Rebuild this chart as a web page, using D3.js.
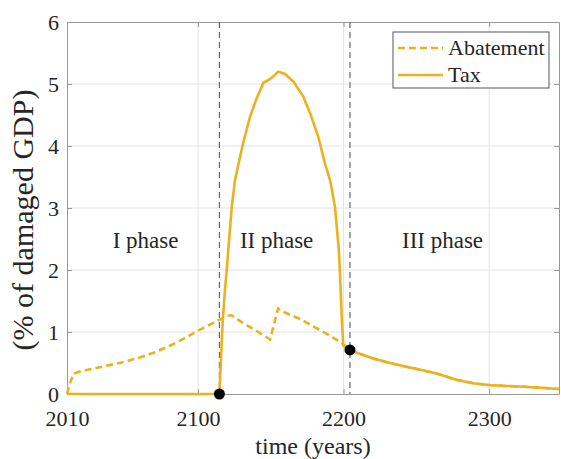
<!DOCTYPE html>
<html>
<head>
<meta charset="utf-8">
<script src="https://cdn.jsdelivr.net/npm/d3@7"></script>
<style>
  body { margin: 0; background: #fff; }
  svg text { font-family: "Liberation Serif", "Times New Roman", "DejaVu Serif", serif; fill: #262626; }
</style>
</head>
<body>
<svg id="chart" width="561" height="459"></svg>
<script>
// data
var abateYears = [2010, 2012, 2014.5, 2020, 2030, 2040, 2050, 2060, 2070, 2080, 2090, 2100, 2110, 2115, 2120, 2123,
                  2130, 2140, 2149.5, 2155, 2160, 2170, 2180, 2190, 2200, 2204.4,
                  2212, 2220, 2232, 2243, 2255, 2264, 2272, 2278, 2290, 2300, 2312, 2324, 2336, 2348];
var abateVals  = [0, 0.17, 0.33, 0.37, 0.42, 0.47, 0.52, 0.59, 0.67, 0.77, 0.89, 1.02, 1.14, 1.2, 1.26, 1.27,
                  1.16, 1.02, 0.88, 1.38, 1.31, 1.21, 1.08, 0.95, 0.8, 0.71,
                  0.64, 0.575, 0.5, 0.44, 0.38, 0.33, 0.27, 0.226, 0.17, 0.145, 0.13, 0.118, 0.1, 0.08];

var taxYears = [2010, 2114.7, 2117, 2118.5, 2119.7, 2123.2, 2125.4, 2130.7, 2135.7, 2140, 2144.9, 2148.3, 2152, 2155.2,
                2159.8, 2165.5, 2172.3, 2177, 2182.6, 2187.2, 2190.7, 2194.1, 2195.5, 2196.8, 2197.8, 2198.8, 2199.8, 2204.4,
                2212, 2220, 2232, 2243, 2255, 2264, 2272, 2278, 2290, 2300, 2312, 2324, 2336, 2348];
var taxVals  = [0, 0, 1.19, 1.68, 2.0, 3.02, 3.45, 4.02, 4.47, 4.75, 5.02, 5.06, 5.13, 5.2,
                5.16, 5.04, 4.8, 4.53, 4.15, 3.72, 3.45, 3.02, 2.65, 2.3, 1.8, 1.2, 0.78, 0.71,
                0.64, 0.575, 0.5, 0.44, 0.38, 0.33, 0.27, 0.226, 0.17, 0.145, 0.13, 0.118, 0.1, 0.08];

var xTicks = [2010, 2100, 2200, 2300];
var yTicks = [0, 1, 2, 3, 4, 5, 6];
var phaseBounds = [2114.7, 2204.4];
var phaseDots = [[2114.7, 0], [2204.4, 0.71]];
var phaseNames = ["I phase", "II phase", "III phase"];
var phaseX = [2064, 2154, 2268];
var seriesNames = ["Abatement", "Tax"];

var gold = "#EDB120";
var serif = "'Liberation Serif', 'Times New Roman', serif";
var svg = d3.select("#chart");
var mLeft = 67, mRight = 559, mTop = 22, mBottom = 394;

var x = d3.scaleLinear().domain([2010, 2348]).range([mLeft, mRight]);
var y = d3.scaleLinear().domain([0, 6]).range([mBottom, mTop]);

// grid
svg.append("g").selectAll("line").data(xTicks.slice(1)).enter().append("line")
    .attr("x1", function(d){ return x(d); }).attr("x2", function(d){ return x(d); })
    .attr("y1", mTop).attr("y2", mBottom)
    .attr("stroke", "#e3e3e3").attr("stroke-width", 1);
svg.append("g").selectAll("line").data(yTicks.slice(1, -1)).enter().append("line")
    .attr("x1", mLeft).attr("x2", mRight)
    .attr("y1", function(d){ return y(d); }).attr("y2", function(d){ return y(d); })
    .attr("stroke", "#e3e3e3").attr("stroke-width", 1);

// axes, ticks inward
var xAxis = d3.axisBottom(x).tickValues(xTicks).tickFormat(d3.format("d")).tickSizeInner(-5).tickSizeOuter(0).tickPadding(16);
var yAxis = d3.axisLeft(y).tickValues(yTicks).tickFormat(d3.format("d")).tickSizeInner(-5).tickSizeOuter(0).tickPadding(8);
svg.append("g").attr("transform", "translate(0," + mBottom + ")").call(xAxis);
svg.append("g").attr("transform", "translate(" + mLeft + ",0)").call(yAxis);
svg.append("g").attr("transform", "translate(0," + mTop + ")")
    .call(d3.axisTop(x).tickValues(xTicks).tickSizeInner(-5).tickSizeOuter(0).tickFormat(""));
svg.append("g").attr("transform", "translate(" + mRight + ",0)")
    .call(d3.axisRight(y).tickValues(yTicks).tickSizeInner(-5).tickSizeOuter(0).tickFormat(""));
svg.selectAll(".domain").attr("stroke", "#9a9a9a");
svg.selectAll(".tick line").attr("stroke", "#9a9a9a");
svg.selectAll(".tick text").style("font-family", serif).style("font-size", "22px").attr("fill", "#262626");

// phase boundaries
svg.append("g").selectAll("line").data(phaseBounds).enter().append("line")
    .attr("x1", function(d){ return x(d); }).attr("x2", function(d){ return x(d); })
    .attr("y1", mTop).attr("y2", mBottom)
    .attr("stroke", "#666").attr("stroke-width", 1.2).attr("stroke-dasharray", "6,4");

// lines
var line = d3.line().x(function(d){ return x(d[0]); }).y(function(d){ return y(d[1]); });
var abate = d3.zip(abateYears, abateVals);
var tax = d3.zip(taxYears, taxVals);
svg.append("path").datum(abate).attr("d", line).attr("fill", "none")
    .attr("stroke", gold).attr("stroke-width", 2.6).attr("stroke-dasharray", "7,4");
svg.append("path").datum(tax).attr("d", line).attr("fill", "none")
    .attr("stroke", gold).attr("stroke-width", 2.6).attr("stroke-linejoin", "round");

svg.append("g").selectAll("circle").data(phaseDots).enter().append("circle")
    .attr("cx", function(d){ return x(d[0]); }).attr("cy", function(d){ return y(d[1]); })
    .attr("r", 5.5).attr("fill", "#000");

// phase names
svg.append("g").selectAll("text").data(phaseNames).enter().append("text")
    .attr("x", function(d, i){ return x(phaseX[i]); }).attr("y", y(2.5) + 9)
    .attr("text-anchor", "middle").style("font-family", serif).style("font-size", "23px")
    .text(function(d){ return d; });

// axis labels
svg.append("text").attr("x", (mLeft + mRight) / 2).attr("y", 453.5)
    .attr("text-anchor", "middle").style("font-family", serif).style("font-size", "24px").text("time (years)");
svg.append("text").attr("transform", "translate(33,220) rotate(-90)")
    .attr("text-anchor", "middle").style("font-family", serif).style("font-size", "30px").text("(% of damaged GDP)");

// legend
var lg = svg.append("g").attr("transform", "translate(393,32)");
lg.append("rect").attr("width", 156).attr("height", 56).attr("fill", "#fff").attr("stroke", "#555").attr("stroke-width", 1);
seriesNames.forEach(function(name, i){
    var ly = 16 + i * 27;
    lg.append("line").attr("x1", 5).attr("x2", 50).attr("y1", ly).attr("y2", ly)
        .attr("stroke", gold).attr("stroke-width", 2.6).attr("stroke-dasharray", i == 0 ? "7,4" : null);
    lg.append("text").attr("x", 55).attr("y", ly + 7).style("font-family", serif).style("font-size", "22px").text(name);
});
</script>
</body>
</html>
